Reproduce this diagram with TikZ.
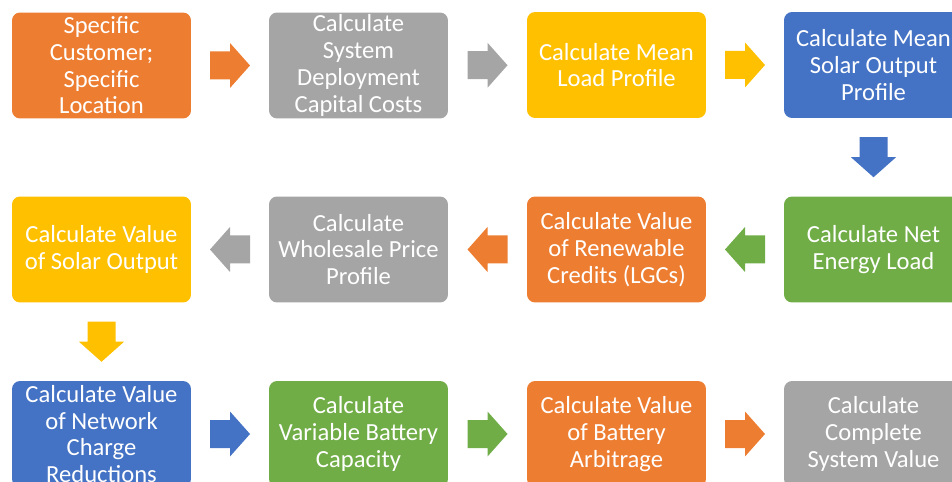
\documentclass[tikz,border=0pt]{standalone}
\usepackage{fontspec}
\setmainfont{Carlito}
\usetikzlibrary{calc}
\definecolor{orng}{HTML}{ED7D31}
\definecolor{grey}{HTML}{A5A5A5}
\definecolor{gold}{HTML}{FFC000}
\definecolor{blu}{HTML}{4472C4}
\definecolor{grn}{HTML}{70AD47}

\tikzset{stage/.style={rectangle, rounded corners=.16cm, minimum width=3.58cm,
    minimum height=2.12cm, inner sep=0pt, align=center, text=white,
    font=\fontsize{14}{15.2}\selectfont}}

% block arrow: colour, centre, angle
\newcommand{\flow}[3]{\fill[#1, shift={#2}, rotate=#3]
  (-20,-14) -- (0,-14) -- (0,-22.5) -- (20,0) -- (0,22.5) -- (0,14) -- (-20,14) -- cycle;}

\begin{document}
\begin{tikzpicture}[x=0.02cm, y=-0.02cm]
\useasboundingbox (0,0) rectangle (952,482);
\clip (0,0) rectangle (952,482);

\node[stage, fill=orng] (cust) at (101.5,65.5) {Specific\\Customer;\\Specific\\Location};
\node[stage, fill=grey] (capex) at (358.5,65.5) {Calculate\\System\\Deployment\\Capital Costs};
\node[stage, fill=gold] (load) at (616.5,65) {Calculate Mean\\Load Profile};
\node[stage, fill=blu] (solar) at (873.5,65) {Calculate Mean\\Solar Output\\Profile};

\node[stage, fill=gold] (value) at (101.5,249.5) {Calculate Value\\of Solar Output};
\node[stage, fill=grey] (whole) at (358.5,249.5) {Calculate\\Wholesale Price\\Profile};
\node[stage, fill=orng] (lgc) at (616.5,249.5) {Calculate Value\\of Renewable\\Credits (LGCs)};
\node[stage, fill=grn] (net) at (873.5,249.5) {Calculate Net\\Energy Load};

\node[stage, fill=blu] (netw) at (101.5,434) {Calculate Value\\of Network\\Charge\\Reductions};
\node[stage, fill=grn] (batt) at (358.5,434) {Calculate\\Variable Battery\\Capacity};
\node[stage, fill=orng] (arb) at (616.5,434) {Calculate Value\\of Battery\\Arbitrage};
\node[stage, fill=grey] (total) at (873.5,434) {Calculate\\Complete\\System Value};

\flow{orng}{($(cust.east)!.5!(capex.west)$)}{0}
\flow{grey}{($(capex.east)!.5!(load.west)$)}{0}
\flow{gold}{($(load.east)!.5!(solar.west)$)}{0}
\flow{blu}{($(solar.south)!.5!(net.north)$)}{-90}
\flow{grn}{($(net.west)!.5!(lgc.east)$)}{180}
\flow{orng}{($(lgc.west)!.5!(whole.east)$)}{180}
\flow{grey}{($(whole.west)!.5!(value.east)$)}{180}
\flow{gold}{($(value.south)!.5!(netw.north)$)}{-90}
\flow{blu}{($(netw.east)!.5!(batt.west)$)}{0}
\flow{grn}{($(batt.east)!.5!(arb.west)$)}{0}
\flow{orng}{($(arb.east)!.5!(total.west)$)}{0}
\end{tikzpicture}
\end{document}
